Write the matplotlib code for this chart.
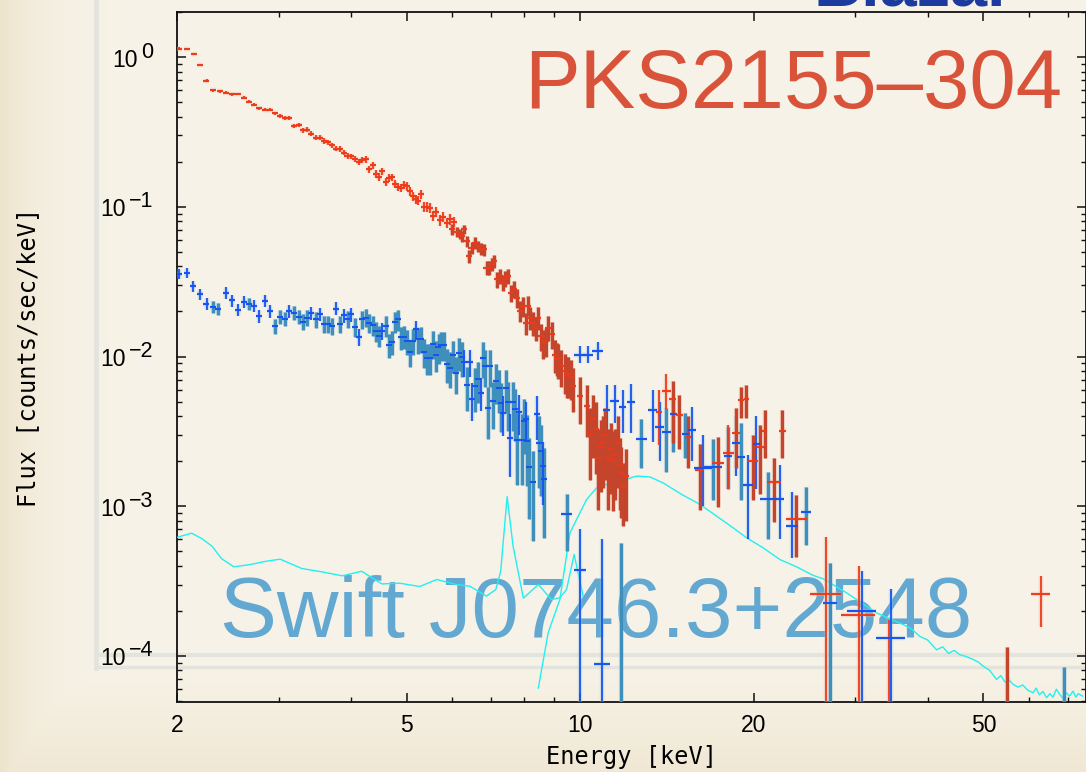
import numpy as np
import matplotlib
matplotlib.use("Agg")
import matplotlib.pyplot as plt
from matplotlib.lines import Line2D
from matplotlib.transforms import ScaledTranslation

# ---------------- data ----------------
title_top = "Blazar"
title_pks = "PKS2155–304"
title_swift = "Swift J0746.3+2548"
xlabel = "Energy [keV]"
ylabel = "Flux [counts/sec/keV]"
x_tick_values = [2, 5, 10, 20, 50]
x_tick_labels = ["2", "5", "10", "20", "50"]
x_minor_values = [3, 4, 6, 7, 8, 9, 30, 40, 60, 70]
y_tick_exponents = [0, -1, -2, -3, -4]

# PKS2155-304, first detector (thin bright red)
pks_a_energy = [2.02, 2.08, 2.14, 2.19, 2.25, 2.31, 2.37, 2.43, 2.49, 2.55, 2.61, 2.67, 2.72, 2.78, 2.84, 2.90, 2.96,
                3.02, 3.08, 3.13, 3.19, 3.25, 3.31, 3.36, 3.42, 3.48, 3.54, 3.60, 3.66, 3.72, 3.78, 3.84, 3.89, 3.95,
                4.01, 4.07, 4.13, 4.18, 4.25, 4.30, 4.37, 4.43, 4.48, 4.54, 4.60, 4.66, 4.71, 4.77, 4.84, 4.90, 4.95,
                5.01, 5.07, 5.14, 5.19, 5.24, 5.30, 5.37, 5.43, 5.49, 5.56, 5.62, 5.71, 5.79, 5.88, 5.94, 6.05]
pks_a_flux = [1.14, 1.13, 1.05, 0.884, 0.695, 0.599, 0.590, 0.578, 0.563, 0.566, 0.535, 0.504, 0.481, 0.454, 0.445, 0.445, 0.420,
              0.404, 0.390, 0.390, 0.346, 0.350, 0.324, 0.328, 0.308, 0.290, 0.290, 0.275, 0.270, 0.257, 0.244, 0.244, 0.230, 0.220,
              0.217, 0.208, 0.199, 0.205, 0.207, 0.178, 0.189, 0.165, 0.159, 0.173, 0.147, 0.156, 0.158, 0.143, 0.136, 0.133, 0.140,
              0.137, 0.127, 0.118, 0.112, 0.110, 0.121, 0.100, 0.100, 0.0986, 0.0867, 0.0922, 0.0815, 0.0859, 0.0783, 0.0824, 0.0791]
pks_a_relerr = [.02, .02, .02, .02, .02, .02, .02, .02, .02, .02, .025, .025, .025, .025, .025, .025, .03,
                .03, .03, .03, .035, .03, .035, .035, .035, .04, .035, .04, .04, .04, .04, .045, .04, .045,
                .045, .045, .05, .045, .05, .06, .05, .06, .06, .055, .06, .06, .055, .06, .06, .06, .065,
                .065, .065, .07, .07, .07, .065, .075, .07, .075, .08, .075, .08, .08, .08, .08, .08]

# PKS2155-304, second detector (thick dark red)
pks_b_energy = [6.00, 6.12, 6.19, 6.24, 6.29, 6.36, 6.41, 6.48, 6.57, 6.64,
                6.73, 6.82, 6.88, 6.96, 7.02, 7.10, 7.18, 7.26, 7.34, 7.41,
                7.50, 7.59, 7.68, 7.76, 7.86, 7.95, 8.04, 8.11, 8.20, 8.29,
                8.37, 8.46, 8.54, 8.63, 8.71, 8.80, 8.92, 9.04, 9.10, 9.16,
                9.28, 9.41, 9.47, 9.53, 9.65, 9.73, 9.99, 10.26, 10.40, 10.53,
                10.65, 10.75, 10.85, 10.96, 11.05, 11.18, 11.30, 11.41, 11.50, 11.64,
                11.70, 11.79, 11.87, 12.00]
pks_b_flux = [.0706, .0678, .0661, .0637, .0706, .0590, .0469, .0533, .0575, .0546,
              .0525, .0519, .0392, .0392, .0412, .0434, .0327, .0344, .0311, .0331,
              .0344, .0267, .0281, .0247, .0201, .0217, .0168, .0219, .0182, .0168,
              .0156, .0182, .0137, .0124, .0127, .0156, .0141, .0103, .00982, .00957,
              .00863, .00798, .00759, .00759, .00730, .00634, .00543, .00466, .00300, .00380,
              .00330, .00211, .00250, .00266, .00300, .00211, .00240, .00205, .00220, .00266,
              .00190, .00167, .00135, .00160]
pks_b_relerr = [.08, .08, .08, .08, .07, .09, .1, .09, .09, .09,
                .09, .09, .11, .11, .1, .1, .12, .11, .12, .12,
                .11, .13, .13, .14, .16, .15, .17, .15, .17, .18,
                .18, .17, .2, .22, .22, .19, .2, .25, .25, .26,
                .28, .3, .3, .3, .3, .33, .35, .38, .5, .45,
                .5, .55, .5, .5, .5, .55, .5, .55, .5, .5,
                .5, .5, .45, .5]

bin_halfwidth_frac = 0.012

# PKS2155-304 wide high-energy bins: energy, flux, half width, lower bound, upper bound, thick?
pks_hi_energy = [13.7, 14.1, 14.46, 14.85, 15.39, 16.1, 17.35, 18.06, 18.6, 19.0, 19.4, 19.9, 20.5, 20.9, 21.7, 22.4, 23.7, 26.7, 30.4, 34.3, 55.0, 62.9]
pks_hi_flux = [.00425, .00593, .00522, .00404, .00290, .00175, .00195, .00228, .0031, .00511, .00522, .0020, .0025, .00318, .00145, .00318, .000828, 2.6e-4, 1.87e-4, 4e-5, 3e-5, 2.58e-4]
pks_hi_halfwidth = [0.15, 0.25, 0.2, 0.2, 0.2, 0.3, 0.4, 0.4, 0.3, 0.2, 0.2, 0.45, 0.3, 0.2, 0.6, 0.3, 1.0, 1.65, 2.05, 0.0, 0.0, 2.35]
pks_hi_low = [.00257, .00444, .00266, .0024, .0018, .00095, .00099, .0013, .0018, .0039, .0039, .0011, .0012, .0021, .00078, .0021, .00046, 0, 0, 0, 0, 1.57e-4]
pks_hi_high = [.0060, .00759, .00685, .0055, .0040, .0026, .0029, .0035, .0045, .0063, .0065, .0030, .0035, .0044, .0021, .0044, .00118, 6.2e-4, 4.0e-4, 1.74e-4, 1.14e-4, 3.44e-4]
pks_hi_thick = [0, 0, 1, 1, 1, 1, 1, 0, 1, 1, 1, 1, 1, 1, 1, 1, 1, 0, 0, 0, 1, 0]

# Swift J0746.3+2548, first detector (thin bright blue)
swift_a_energy = [2.02, 2.08, 2.13, 2.19, 2.25, 2.43, 2.49, 2.55, 2.61, 2.72, 2.78, 2.84, 2.90,
                  3.13, 3.42, 3.54, 3.77, 3.89, 4.01, 4.13, 4.54, 5.19, 6.30, 6.45, 6.50, 6.73,
                  7.36, 7.57, 7.84, 8.06, 8.42, 8.63]
swift_a_flux = [.0357, .0361, .0295, .0261, .0226, .0267, .0237, .0206, .0231, .0219, .0186, .0236, .0202,
                .0202, .0196, .0193, .0209, .0188, .0191, .0136, .0149, .0152, .00918, .00918, .00517, .00573,
                .00421, .00287, .00425, .00384, .00410, .00185]
swift_a_relerr = [.08, .08, .08, .08, .09, .09, .09, .09, .09, .09, .1, .09, .1,
                  .1, .1, .1, .1, .11, .11, .13, .13, .14, .2, .2, .28, .25,
                  .3, .45, .3, .3, .32, .45]

# Swift J0746.3+2548, second detector (thick teal)
swift_b_energy = [2.31, 2.36, 2.67, 2.96, 3.02, 3.08, 3.19, 3.25, 3.31, 3.36,
                  3.48, 3.60, 3.66, 3.72, 3.84, 3.95, 4.07, 4.18, 4.25, 4.30,
                  4.37, 4.43, 4.48, 4.60, 4.66, 4.71, 4.77, 4.84, 4.90, 4.95,
                  5.01, 5.07, 5.14, 5.24, 5.30, 5.37, 5.43, 5.49, 5.56, 5.62,
                  5.68, 5.74, 5.81, 5.88, 5.94, 6.02, 6.08, 6.17, 6.24, 6.37,
                  6.57, 6.64, 6.79, 6.85, 6.92, 6.99, 7.07, 7.15, 7.23, 7.30,
                  7.44, 7.51, 7.66, 7.72, 7.77, 7.93, 7.99, 8.10, 8.15, 8.29,
                  8.49, 8.56, 8.66]
swift_b_flux = [.0214, .0209, .0226, .0160, .0184, .0179, .0196, .0184, .0171, .0182,
                .0177, .0164, .0164, .0160, .0166, .0177, .0158, .0177, .0182, .0168,
                .0162, .0148, .0138, .0160, .0119, .0125, .0170, .0177, .0134, .0136,
                .0127, .0107, .0127, .0130, .0131, .0107, .00982, .00982, .0122, .0103,
                .0115, .0120, .0120, .00895, .00841, .0102, .00779, .0106, .0099, .00641,
                .00634, .00703, .00982, .00863, .00455, .00866, .00504, .00685, .00619, .00491,
                .00619, .00496, .00496, .00443, .00279, .00276, .00370, .00272, .00184, .00146,
                .00266, .00233, .00153]
swift_b_relerr = [.09, .09, .09, .12, .11, .11, .11, .11, .12, .12,
                  .12, .13, .13, .13, .13, .13, .14, .14, .14, .15,
                  .15, .15, .16, .16, .18, .18, .16, .16, .18, .18,
                  .19, .21, .2, .2, .2, .22, .23, .23, .21, .23,
                  .23, .22, .22, .26, .27, .24, .28, .25, .26, .33,
                  .33, .3, .27, .28, .38, .28, .35, .3, .32, .36,
                  .32, .36, .36, .38, .5, .5, .4, .5, .55, .6,
                  .5, .5, .6]

# Swift J0746.3+2548 wide bins
swift_hi_energy = [9.47, 9.99, 9.99, 10.33, 10.72, 10.9, 11.11, 11.48, 11.75, 11.84, 12.23, 12.77, 13.35, 13.74, 14.11, 14.49,
                   15.22, 15.64, 16.34, 17.0, 18.06, 18.6, 19.0, 19.55, 20.2, 21.2, 22.2, 23.3, 24.6, 27.1, 30.8, 34.6, 68.9]
swift_hi_flux = [8.82e-4, .0103, 3.74e-4, .0103, .0109, 8.8e-5, .00438, .00504, 4e-5, .00462, .00499, .00282, .00438, .00340, .00313, .00410,
                 .00305, .00321, .00181, .00182, .00218, .00266, .00213, .00139, .00259, .00112, .00111, .000736, .000914, 2.26e-4, 2.01e-4, 1.32e-4, 3e-5]
swift_hi_halfwidth = [0.2, 0.25, 0.25, 0.2, 0.25, 0.35, 0.15, 0.2, 0.0, 0.15, 0.2, 0.3, 0.25, 0.25, 0.25, 0.2,
                      0.2, 0.25, 0.6, 0.6, 0.3, 0.3, 0.3, 0.4, 0.3, 0.7, 0.4, 0.6, 0.5, 0.75, 1.8, 2.0, 0.0]
swift_hi_low = [5.0e-4, .0091, 0, .0090, .0095, 0, .0029, .0036, 0, .0031, .0031, .0018, .0027, .0020, .0017, .0023,
                .0021, .0020, .0010, .0011, .0013, .0016, .0011, .0006, .0013, .0006, .0006, .00045, .00055, 0, 0, 0, 0]
swift_hi_high = [1.2e-3, .0117, 7.0e-4, .0118, .0125, 6.0e-4, .0065, .0065, 5.7e-4, .0060, .0066, .0038, .0060, .0050, .0045, .0052,
                 .0042, .0046, .0030, .0028, .0034, .0040, .0036, .0022, .0040, .0017, .0019, .00125, .00135, 4.2e-4, 3.7e-4, 2.78e-4, 8.4e-5]
swift_hi_thick = [1, 0, 0, 0, 0, 0, 0, 0, 1, 0, 0, 1, 0, 0, 1, 1,
                  1, 0, 0, 1, 1, 0, 1, 0, 0, 1, 0, 0, 1, 1, 0, 0, 1]

# background spectra (cyan)
bgd1_energy = [2.00, 2.12, 2.21, 2.30, 2.39, 2.51, 2.68, 2.86, 3.02, 3.29, 3.56, 3.87, 4.18, 4.53, 4.87, 5.27,
               5.64, 6.11, 6.44, 6.88, 7.14, 7.28, 7.47, 7.65, 7.97, 8.46, 8.92, 9.22, 9.47, 9.76, 10.12]
bgd1_flux = [6.2e-4, 6.61e-4, 6.07e-4, 5.41e-4, 4.46e-4, 3.94e-4, 4.08e-4, 4.30e-4, 4.43e-4, 3.84e-4, 3.65e-4, 3.43e-4,
             3.68e-4, 3.03e-4, 3.06e-4, 2.91e-4, 3.24e-4, 3.00e-4, 2.92e-4, 2.51e-4, 2.78e-4, 3.68e-4, 1.16e-3, 5.41e-4,
             2.43e-4, 3.00e-4, 2.38e-4, 2.45e-4, 2.78e-4, 4.76e-4, 2.51e-4]
bgd2_energy = [8.46, 8.80, 9.22, 9.60, 9.99, 10.26, 10.68, 11.11, 11.72, 12.52, 13.21, 13.93, 14.99, 16.12, 17.24, 18.41,
               19.42, 20.75, 22.18, 23.72, 25.35, 26.37, 28.96, 32.64, 36.30, 37.5, 38.80, 40.0, 41.47, 42.5, 43.5, 44.5,
               45.50, 46.7, 47.98, 49.0, 49.94, 51.3, 52.68, 53.6, 54.5, 55.4, 56.28, 57.4, 58.5, 59.7, 60.96, 61.7,
               62.5, 63.4, 64.34, 65.2, 66.0, 66.9, 67.82, 68.7, 69.5, 70.5, 71.52, 72.3, 73.0, 74.3]
bgd2_flux = [6.1e-5, 1.43e-4, 2.38e-4, 6.65e-4, 9.05e-4, 1.11e-3, 1.33e-3, 1.40e-3, 1.47e-3, 1.59e-3, 1.57e-3, 1.43e-3,
             1.20e-3, 1.03e-3, 8.59e-4, 7.18e-4, 6.16e-4, 5.28e-4, 4.41e-4, 3.94e-4, 3.45e-4, 3.28e-4, 2.64e-4, 1.94e-4,
             1.62e-4, 1.52e-4, 1.35e-4, 1.28e-4, 1.10e-4, 1.15e-4, 1.04e-4, 1.09e-4, 1.02e-4, 9.9e-5, 9.48e-5, 9.1e-5,
             8.55e-5, 8.0e-5, 6.97e-5, 7.4e-5, 6.7e-5, 6.9e-5, 6.46e-5, 6.2e-5, 6.4e-5, 5.9e-5, 5.68e-5, 6.1e-5,
             5.5e-5, 5.8e-5, 5.26e-5, 5.6e-5, 5.3e-5, 6.0e-5, 5.53e-5, 5.2e-5, 5.7e-5, 5.4e-5, 5.82e-5, 5.3e-5,
             5.6e-5, 5.39e-5]

# ---------------- figure ----------------
W, H = 1086, 772
fig = plt.figure(figsize=(W / 100, H / 100), dpi=100)

# slide background with soft darker edges
bg = fig.add_axes([0, 0, 1, 1], zorder=-10)
yy, xx = np.mgrid[0:H, 0:W]
light = np.array([247, 243, 232]) / 255.0
dark = np.array([238, 228, 205]) / 255.0
f = np.maximum(np.exp(-xx / 40.0), 0.75 * np.clip((yy - 640) / 132.0, 0, 1) ** 1.5)
img = light[None, None, :] * (1 - f[..., None]) + dark[None, None, :] * f[..., None]
bg.imshow(img, extent=[0, W, H, 0], aspect="auto", interpolation="bilinear")
bg.set_xlim(0, W)
bg.set_ylim(H, 0)
bg.axis("off")

frame_col = "#e4e4de"
fig.add_artist(Line2D([96 / W, 96 / W], [1, 1 - 668 / H], transform=fig.transFigure, color=frame_col, lw=3.5, zorder=-5))
fig.add_artist(Line2D([96 / W, 1], [1 - 655 / H, 1 - 655 / H], transform=fig.transFigure, color=frame_col, lw=3.0, zorder=-5))
fig.add_artist(Line2D([96 / W, 1], [1 - 667 / H, 1 - 667 / H], transform=fig.transFigure, color=frame_col, lw=2.5, zorder=-5))

# main axes
ax_l, ax_r, ax_t, ax_b = 177, 1086, 12, 701.7
ax = fig.add_axes([ax_l / W, 1 - ax_b / H, (ax_r - ax_l) / W, (ax_b - ax_t) / H], zorder=1)
ax.set_facecolor("none")
ax.set_xscale("log")
ax.set_yscale("log")
ax.set_xlim(2, 75.3)
ax.set_ylim(4.95e-5, 2.0)
for s in ax.spines.values():
    s.set_linewidth(1.3)
    s.set_color("#111111")

ax.xaxis.set_major_locator(matplotlib.ticker.FixedLocator(x_tick_values))
ax.xaxis.set_minor_locator(matplotlib.ticker.FixedLocator(x_minor_values))
ax.yaxis.set_major_locator(matplotlib.ticker.LogLocator(base=10, numticks=20))
ax.yaxis.set_minor_locator(matplotlib.ticker.LogLocator(base=10, subs=np.arange(2, 10), numticks=20))
ax.yaxis.set_minor_formatter(matplotlib.ticker.NullFormatter())
ax.xaxis.set_minor_formatter(matplotlib.ticker.NullFormatter())
ax.tick_params(which="both", direction="in", top=True, right=True, color="#111111")
ax.tick_params(which="major", length=6.5, width=1.1)
ax.tick_params(which="minor", length=3.6, width=1.0)
ax.set_xticklabels(x_tick_labels, fontsize=16.5, family="Liberation Sans")
ax.tick_params(axis="x", which="major", pad=9)
ax.tick_params(axis="y", which="both", labelleft=False)

lbl_font = "Liberation Sans"
renderer = fig.canvas.get_renderer()
ytrans = ax.get_yaxis_transform()
for e in y_tick_exponents:
    val = 10.0 ** e
    es = "0" if e == 0 else "\u2212" + str(-e)
    t_exp = ax.text(-24 / (ax_r - ax_l), val, es, transform=ytrans + ScaledTranslation(0, -0.5 / 100, fig.dpi_scale_trans),
                    ha="right", va="baseline", fontsize=15.5, family=lbl_font, clip_on=False)
    bb = t_exp.get_window_extent(renderer)
    xfrac = (bb.x0 - 3 - ax.bbox.x0) / ax.bbox.width
    ax.text(xfrac, val, "10", transform=ytrans + ScaledTranslation(0, -9.5 / 100, fig.dpi_scale_trans),
            ha="right", va="baseline", fontsize=16.5, family=lbl_font, clip_on=False)

fig.text(631 / W, 1 - 757 / H, xlabel, ha="center", va="center", fontsize=17, family="DejaVu Sans Mono")
fig.text(28 / W, 1 - 357 / H, ylabel, ha="center", va="center", rotation=90, fontsize=17, family="DejaVu Sans Mono")

# big slide texts
fig.text(913 / W, 1 - 6 / H, title_top, ha="center", va="baseline", fontsize=48, color="#1d3b9e",
         family="Liberation Sans", fontweight="bold")
ax.text(793 / W, 1 - 108 / H, title_pks, transform=fig.transFigure, ha="center", va="baseline",
        fontsize=60, color="#d9533b", family="Liberation Sans", zorder=2)
ax.text(596 / W, 1 - 637 / H, title_swift, transform=fig.transFigure, ha="center", va="baseline",
        fontsize=61.5, color="#62a8d1", family="Liberation Sans", zorder=2)

# ---------------- data drawing ----------------
RED_THIN = "#ee3a18"
RED_THICK = "#c4452c"
BLUE_THIN = "#1652f2"
TEAL = "#3f8fbd"
CYAN = "#22f0f0"

ax.plot(bgd1_energy, bgd1_flux, color=CYAN, lw=1.0, zorder=3)
ax.plot(bgd2_energy, bgd2_flux, color=CYAN, lw=1.0, zorder=3)


def draw_points(E, F, lo, hi, xl, xh, thick, thin_col, thick_col, halo_col):
    E = np.asarray(E, float)
    F = np.asarray(F, float)
    lo = np.asarray(lo, float)
    hi = np.asarray(hi, float)
    xl = np.asarray(xl, float)
    xh = np.asarray(xh, float)
    thick = np.asarray(thick, bool)
    ax.errorbar(E, F, yerr=[lo, hi], xerr=[xl, xh], fmt="none", ecolor=halo_col, elinewidth=3.2,
                capsize=0, alpha=0.35, zorder=4)
    for m, vcol, vlw in ((thick, thick_col, 2.4), (~thick, thin_col, 1.3)):
        if m.any():
            ax.errorbar(E[m], F[m], yerr=[lo[m], hi[m]], fmt="none", ecolor=vcol, elinewidth=vlw,
                        capsize=0, zorder=5)
            ax.errorbar(E[m], F[m], xerr=[xl[m], xh[m]], fmt="none", ecolor=thin_col, elinewidth=1.4,
                        capsize=0, zorder=6)


def dense(E, F, rel):
    E = np.asarray(E, float)
    F = np.asarray(F, float)
    rel = np.asarray(rel, float)
    err = F * rel
    hw = E * bin_halfwidth_frac
    return E, F, err, err, hw, hw


def wide(E, F, hw, low, high):
    E = np.asarray(E, float)
    F = np.asarray(F, float)
    low = np.asarray(low, float)
    high = np.asarray(high, float)
    lo = np.where(low > 0, F - low, F * 0.99999)
    hi = high - F
    return E, F, lo, hi, np.asarray(hw, float), np.asarray(hw, float)


# Swift (blue family)
E, F, lo, hi, xl, xh = dense(swift_b_energy, swift_b_flux, swift_b_relerr)
draw_points(E, F, lo, hi, xl, xh, np.ones(len(E)), BLUE_THIN, TEAL, "#8cc0de")
E, F, lo, hi, xl, xh = dense(swift_a_energy, swift_a_flux, swift_a_relerr)
draw_points(E, F, lo, hi, xl, xh, np.zeros(len(E)), BLUE_THIN, TEAL, "#8cb4ee")
E, F, lo, hi, xl, xh = wide(swift_hi_energy, swift_hi_flux, swift_hi_halfwidth, swift_hi_low, swift_hi_high)
draw_points(E, F, lo, hi, xl, xh, swift_hi_thick, BLUE_THIN, TEAL, "#8cc0de")

# PKS (red family)
E, F, lo, hi, xl, xh = dense(pks_a_energy, pks_a_flux, pks_a_relerr)
draw_points(E, F, lo, hi, xl, xh, np.zeros(len(E)), RED_THIN, RED_THICK, "#f0a894")
E, F, lo, hi, xl, xh = dense(pks_b_energy, pks_b_flux, pks_b_relerr)
draw_points(E, F, lo, hi, xl, xh, np.ones(len(E)), RED_THIN, RED_THICK, "#e8a898")
E, F, lo, hi, xl, xh = wide(pks_hi_energy, pks_hi_flux, pks_hi_halfwidth, pks_hi_low, pks_hi_high)
draw_points(E, F, lo, hi, xl, xh, pks_hi_thick, RED_THIN, RED_THICK, "#e8a898")

fig.savefig("out.png", dpi=100)
